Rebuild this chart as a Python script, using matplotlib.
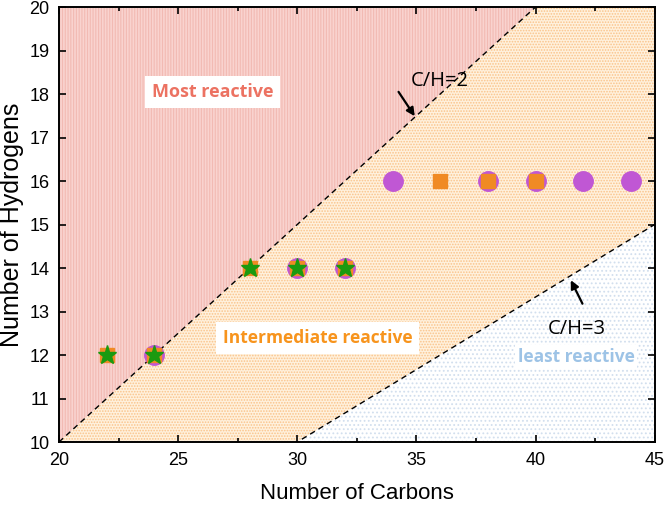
import matplotlib
matplotlib.use("Agg")
import matplotlib.pyplot as plt
import numpy as np

# data
circle_c = [24, 30, 32, 34, 38, 40, 42, 44]
circle_h = [12, 14, 14, 16, 16, 16, 16, 16]
square_c = [22, 24, 28, 30, 32, 36, 38, 40]
square_h = [12, 12, 14, 14, 14, 16, 16, 16]
star_c = [22, 24, 28, 30, 32]
star_h = [12, 12, 14, 14, 14]

xlim = (20, 45)
ylim = (10, 20)
plt.rcParams['hatch.linewidth'] = 0.8

fig = plt.figure(figsize=(6.66, 5.09), dpi=100)
ax = fig.add_axes([0.0886, 0.1316, 0.8944, 0.8546])

x = np.array([20, 45])
ch2 = 10 + (x - 20) / 2.0
ch3 = 10 + (x - 30) / 3.0

# regions bounded by C/H=2 and C/H=3
ax.fill([20, 40, 20], [10, 20, 20], facecolor='#F9D3CF', edgecolor='#F2BAB3',
        hatch='||||||', linewidth=0, zorder=0)
ax.fill([20, 30, 45, 45, 40], [10, 10, 15, 20, 20], facecolor='#FFF1DD',
        edgecolor='#FAC38A', hatch='......', linewidth=0, zorder=0)
ax.fill([30, 45, 45], [10, 10, 15], facecolor='white',
        edgecolor='#D2DFEE', hatch='....', linewidth=0, zorder=0)

ax.plot(x, ch2, 'k--', lw=1, dashes=(4, 3), zorder=1)
ax.plot(x, ch3, 'k--', lw=1, dashes=(4, 3), zorder=1)

ax.plot(circle_c, circle_h, 'o', color='#C057D4', ms=14, ls='none', zorder=3)
ax.plot(square_c, square_h, 's', color='#F08A24', ms=9.5, ls='none', zorder=4)
ax.plot(star_c, star_h, '*', color='#1A9A10', ms=14, ls='none', zorder=5)

ax.text(26.45, 18.05, 'Most reactive', color='#EC7262', fontsize=13, fontweight='bold',
        family='Open Sans', ha='center', va='center',
        bbox=dict(facecolor='white', edgecolor='none', pad=5))
ax.text(30.85, 12.4, 'Intermediate reactive', color='#F7941D', fontsize=12.5,
        fontweight='bold', family='Open Sans', ha='center', va='center',
        bbox=dict(facecolor='white', edgecolor='none', pad=5))
ax.text(41.7, 11.95, 'least reactive', color='#9DC3E6', fontsize=12.5, fontweight='bold',
        family='Open Sans', ha='center', va='center',
        bbox=dict(facecolor='white', edgecolor='none', pad=2))

ax.text(36.0, 18.3, 'C/H=2', fontsize=14.5, family='Open Sans', ha='center', va='center')
ax.annotate('', xy=(34.93, 17.49), xytext=(34.25, 18.05),
            arrowprops=dict(arrowstyle='-|>', color='black', lw=1.6,
                            shrinkA=0, shrinkB=0, mutation_scale=12))
ax.text(41.73, 12.6, 'C/H=3', fontsize=14.5, family='Open Sans', ha='center', va='center')
ax.annotate('', xy=(41.48, 13.72), xytext=(41.97, 13.18),
            arrowprops=dict(arrowstyle='-|>', color='black', lw=1.6,
                            shrinkA=0, shrinkB=0, mutation_scale=12))

ax.set_xlim(*xlim)
ax.set_ylim(*ylim)
ax.set_xticks(np.arange(20, 46, 5))
ax.set_xticks(np.arange(20, 45.1, 2.5), minor=True)
ax.set_yticks(np.arange(10, 21, 1))
ax.tick_params(direction='in', which='both', labelsize=13, length=5, width=1.2,
               top=True, right=True, pad=7)
ax.tick_params(which='minor', length=3)
for lab in ax.get_xticklabels() + ax.get_yticklabels():
    lab.set_family('Liberation Sans')
for s in ax.spines.values():
    s.set_linewidth(1.4)
ax.set_xlabel('Number of Carbons', fontsize=16, family='Liberation Sans', labelpad=10)
ax.set_ylabel('Number of Hydrogens', fontsize=18, family='Liberation Sans', labelpad=4)

fig.savefig('out.png', dpi=100)
